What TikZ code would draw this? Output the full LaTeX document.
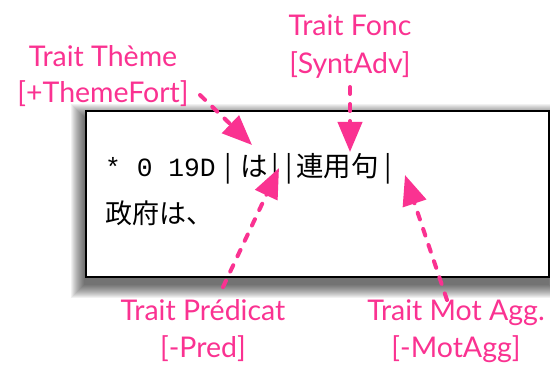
\documentclass[tikz,border=0pt]{standalone}
\usepackage{fontspec}
\usetikzlibrary{arrows.meta}
\newfontfamily\labfont{Lato}
\newfontfamily\monofont{Liberation Mono}
\newfontfamily\cjkfont{Noto Sans CJK JP}
\definecolor{pk}{RGB}{250,50,145}
\tikzset{
  lab/.style={text=pk, font=\labfont\fontsize{28.5}{30}\selectfont, anchor=base, inner sep=0pt},
  pa/.style={draw=pk, line width=4pt, line cap=round, dash pattern=on 7pt off 10pt,
             -{Triangle[length=30pt,width=24pt]}},
  bx/.style={draw=black, line width=2pt, fill=white, inner sep=0pt, anchor=south west,
             minimum width=463pt, minimum height=166pt},
  txt/.style={anchor=base west, inner sep=0pt}
}
\newcommand{\bw}[2]{\makebox[#1pt][c]{#2}}
\begin{document}
\begin{tikzpicture}[x=1pt,y=1pt]
\useasboundingbox (0,0) rectangle (550,365);
% shadow
\foreach \i in {1,...,14}
  \fill[black,opacity=0.055] ({85-\i},{87-6-\i}) rectangle ({548+\i},{253-6+\i});
% box
\node[bx] (box) at (85,87) {};
% box text
\node[txt] (l1) at (105,189) {{\monofont\fontsize{26.3}{30}\selectfont * 0 19D}{\cjkfont\fontsize{27.5}{30}\selectfont\bw{24.6}{|}は\bw{14.5}{|}\bw{13.75}{|}連用句\bw{19}{|}}};
\node[txt] (l2) at (105,141) {\cjkfont\fontsize{27}{30}\selectfont 政府は、};
% labels
\node[lab] (thA) at (103,298) {Trait Thème};
\node[lab] (thB) at (103,262) {[+ThemeFort]};
\node[lab] (foA) at (350,329) {Trait Fonc};
\node[lab] (foB) at (350,291) {[SyntAdv]};
\node[lab] (prA) at (203,45) {Trait Prédicat};
\node[lab] (prB) at (203,8) {[-Pred]};
\node[lab] (maA) at (456,45) {Trait Mot Agg.};
\node[lab] (maB) at (456,8) {[-MotAgg]};
% arrow ends
\coordinate (thT) at (200,270);
\coordinate (thH) at (252,220);
\coordinate (foT) at (350,278);
\coordinate (foH) at (350,213);
\coordinate (prT) at (223,78);
\coordinate (prH) at (279,197);
\coordinate (maT) at (447,65);
\coordinate (maH) at (405,190);
\draw[pa] (thT) -- (thH);
\draw[pa] (foT) -- (foH);
\draw[pa] (prT) -- (prH);
\draw[pa] (maT) -- (maH);
\end{tikzpicture}
\end{document}
